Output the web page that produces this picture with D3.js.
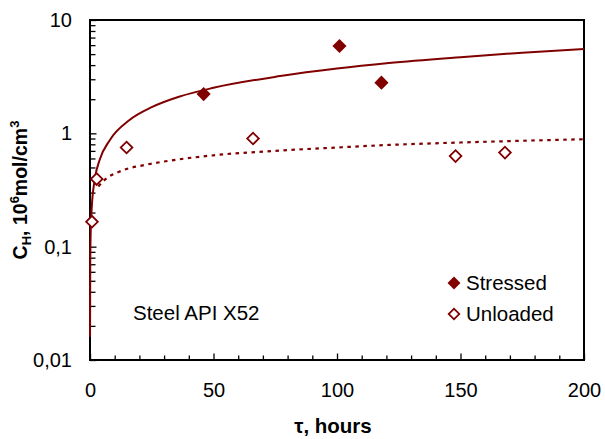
<!DOCTYPE html>
<html>
	<head>
		<meta charset="utf-8">
		<title>Hydrogen concentration</title>
		<style>
			body { margin: 0; background: #fff; }
			text { font-family: Arial, "Liberation Sans", sans-serif; fill: #000; }
			.fit { fill: none; stroke: #800000; stroke-width: 2px; }
			.fit.dotted { stroke-dasharray: 3.5,4.5; stroke-width: 2.2px; }
		</style>
	</head>
	<body>
		<svg class="chart"></svg>
		<script src="https://d3js.org/d3.v7.min.js"></script>
		<script>
			// measured points
			var stressedT = [46, 101, 118];
			var stressedC = [2.22, 5.9, 2.8];
			var unloadedT = [0.8, 2.7, 14.8, 66, 148, 168];
			var unloadedC = [0.166, 0.395, 0.75, 0.9, 0.63, 0.676];

			// fitted curves
			var fitStressedT = [0.01, 0.1, 0.3, 0.7, 2, 4, 8, 16, 25, 36, 50, 77, 100, 121, 150, 175, 200];
			var fitStressedC = [0.016, 0.07, 0.14, 0.22, 0.40, 0.59, 0.87, 1.31, 1.7, 2.1, 2.52, 3.2, 3.73, 4.17, 4.7, 5.15, 5.56];
			var fitUnloadedT = [3.4, 6, 12, 23, 35, 50, 77, 100, 121, 150, 175, 200];
			var fitUnloadedC = [0.339, 0.39, 0.46, 0.53, 0.585, 0.64, 0.705, 0.75, 0.79, 0.83, 0.86, 0.887];

			var xTicks = [0, 50, 100, 150, 200];
			var yTicks = [0.01, 0.1, 1, 10];
			var yTickLabels = ["0,01", "0,1", "1", "10"];

			var red = "#800000";
			var margin = {top: 20, right: 21, bottom: 79, left: 90},
				width = 605 - margin.left - margin.right,
				height = 439 - margin.top - margin.bottom;

			var svg = d3.select(".chart")
				.attr("width", 605)
				.attr("height", 439);
			var chart = svg.append("g")
				.attr("transform", "translate(" + margin.left + "," + margin.top + ")");

			var x = d3.scaleLinear().domain([0, 200]).range([0, width]);
			var y = d3.scaleLog().domain([0.01, 10]).range([height, 0]);

			// minor ticks
			var xMinor = d3.range(0, 201, 10).filter(function(v) { return v % 50 !== 0; });
			var yMinor = [];
			[0.01, 0.1, 1].forEach(function(d) {
				for (var k = 2; k <= 9; k++) yMinor.push(d * k);
			});

			chart.append("g")
				.attr("transform", "translate(0," + height + ")")
				.call(d3.axisBottom(x).tickValues(xMinor).tickSize(-4.5).tickFormat(""))
				.call(function(g) { g.select(".domain").remove(); g.selectAll("line").attr("stroke-width", 1.3); });
			chart.append("g")
				.call(d3.axisLeft(y).tickValues(yMinor).tickSize(-5.5).tickFormat(""))
				.call(function(g) { g.select(".domain").remove(); g.selectAll("line").attr("stroke-width", 1.3); });

			// major axes
			chart.append("g")
				.attr("transform", "translate(0," + height + ")")
				.call(d3.axisBottom(x).tickValues(xTicks).tickSize(-6.5).tickPadding(23))
				.call(function(g) {
					g.select(".domain").remove();
					g.selectAll("line").attr("stroke-width", 1.3);
					g.selectAll("text").attr("font-size", 20).style("font-family", "Arial, 'Liberation Sans', sans-serif");
				});
			chart.append("g")
				.call(d3.axisLeft(y).tickValues(yTicks).tickSize(-6.5).tickPadding(18)
					.tickFormat(function(d, i) { return yTickLabels[i]; }))
				.call(function(g) {
					g.select(".domain").remove();
					g.selectAll("line").attr("stroke-width", 1.3);
					g.selectAll("text").attr("font-size", 20).style("font-family", "Arial, 'Liberation Sans', sans-serif");
				});

			// frame
			chart.append("rect")
				.attr("width", width)
				.attr("height", height)
				.attr("fill", "none")
				.attr("stroke", "#000")
				.attr("stroke-width", 2);

			// fit lines
			var line = d3.line()
				.x(function(d) { return x(d[0]); })
				.y(function(d) { return y(d[1]); })
				.curve(d3.curveMonotoneX);
			chart.append("path")
				.attr("class", "fit")
				.attr("d", line(d3.zip(fitStressedT, fitStressedC)));
			chart.append("path")
				.attr("class", "fit dotted")
				.attr("d", line(d3.zip(fitUnloadedT, fitUnloadedC)));

			// markers
			var filled = d3.symbol(d3.symbolSquare, 100);
			var hollow = d3.symbol(d3.symbolSquare, 68);
			chart.selectAll("path.stressed")
				.data(d3.zip(stressedT, stressedC))
				.enter().append("path")
					.attr("class", "stressed")
					.attr("d", filled)
					.attr("fill", red)
					.attr("transform", function(d) { return "translate(" + x(d[0]) + "," + y(d[1]) + ") rotate(45)"; });
			chart.selectAll("path.unloaded")
				.data(d3.zip(unloadedT, unloadedC))
				.enter().append("path")
					.attr("class", "unloaded")
					.attr("d", hollow)
					.attr("fill", "#fff")
					.attr("stroke", red)
					.attr("stroke-width", 1.8)
					.attr("transform", function(d) { return "translate(" + x(d[0]) + "," + y(d[1]) + ") rotate(45)"; });

			// legend
			var legend = svg.append("g").attr("transform", "translate(454,283)");
			legend.append("path")
				.attr("d", d3.symbol(d3.symbolSquare, 84))
				.attr("fill", red)
				.attr("transform", "rotate(45)");
			legend.append("text")
				.attr("x", 12).attr("dy", "0.36em")
				.attr("font-size", 20.5)
				.text("Stressed");
			legend.append("path")
				.attr("d", d3.symbol(d3.symbolSquare, 56))
				.attr("fill", "#fff")
				.attr("stroke", red)
				.attr("stroke-width", 1.8)
				.attr("transform", "translate(0,31) rotate(45)");
			legend.append("text")
				.attr("x", 12).attr("y", 31).attr("dy", "0.36em")
				.attr("font-size", 20.5)
				.text("Unloaded");

			// annotation
			svg.append("text")
				.attr("x", 133).attr("y", 320)
				.attr("font-size", 20.5)
				.text("Steel API X52");

			// axis titles
			svg.append("text")
				.attr("x", 333).attr("y", 433)
				.attr("text-anchor", "middle")
				.attr("font-size", 20.5)
				.attr("font-weight", "bold")
				.text("τ, hours");

			var yTitle = svg.append("text")
				.attr("transform", "translate(27,190) rotate(-90)")
				.attr("text-anchor", "middle")
				.attr("font-size", 19.5)
				.attr("font-weight", "bold");
			yTitle.append("tspan").text("C");
			yTitle.append("tspan").attr("font-size", 13).attr("dy", 4).text("H");
			yTitle.append("tspan").attr("dy", -4).text(", 10");
			yTitle.append("tspan").attr("font-size", 13).attr("dy", -8).text("6");
			yTitle.append("tspan").attr("dy", 8).text("mol/cm");
			yTitle.append("tspan").attr("font-size", 13).attr("dy", -8).text("3");
		</script>
	</body>
</html>
